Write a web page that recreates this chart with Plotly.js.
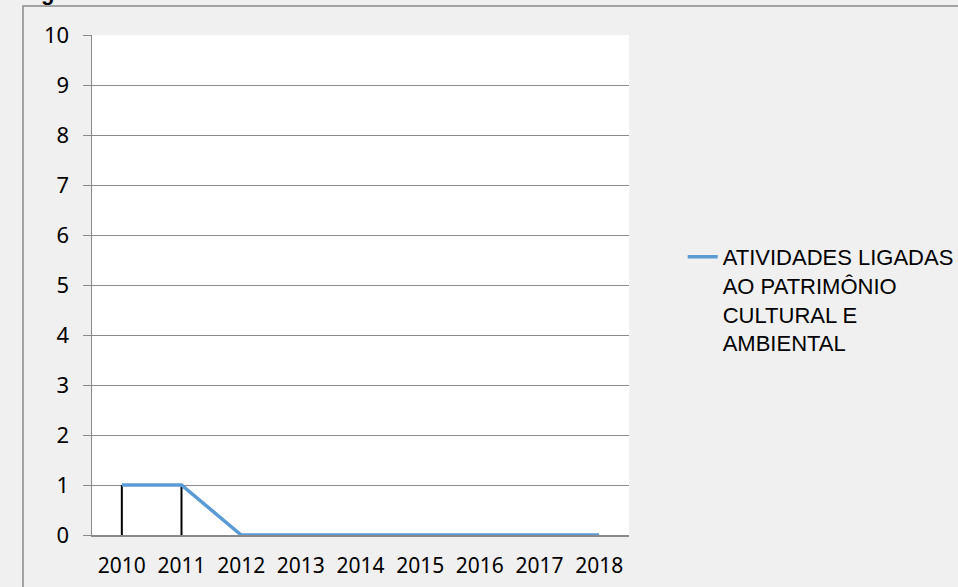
<!DOCTYPE html>
<html>
<head>
<meta charset="utf-8">
<script src="https://cdn.plot.ly/plotly-3.0.1.min.js"></script>
<style>html,body{margin:0;padding:0;background:#f0f0f0;}#chart{width:958px;height:587px;}</style>
</head>
<body>
<div id="chart"></div>
<script>
var years = ["2010","2011","2012","2013","2014","2015","2016","2017","2018"];
var values = [1, 1, 0, 0, 0, 0, 0, 0, 0];
var seriesName = "ATIVIDADES LIGADAS<br>AO PATRIMÔNIO<br>CULTURAL E<br>AMBIENTAL";
var yTicks = [0,1,2,3,4,5,6,7,8,9,10];

var dropX = [], dropY = [];
years.forEach(function (c, i) { dropX.push(c, c, null); dropY.push(0, values[i], null); });

var traces = [
  {x: dropX, y: dropY, type: "scatter", mode: "lines", line: {color: "#000000", width: 2}, showlegend: false, hoverinfo: "skip"},
  {x: years, y: values, type: "scatter", mode: "lines", name: seriesName, line: {color: "#5b9bd5", width: 3.5}}
];

var layout = {
  width: 958, height: 587,
  margin: {l: 92, r: 329, t: 35, b: 52, autoexpand: false},
  paper_bgcolor: "#f0f0f0",
  plot_bgcolor: "#ffffff",
  font: {family: "Noto Sans, Open Sans, sans-serif", color: "#000000", size: 20},
  xaxis: {type: "category", range: [-0.5, 8.5], showgrid: false, showline: true, linecolor: "#898989", linewidth: 1.5,
          ticks: "", ticklabelstandoff: 11, tickfont: {size: 21}, zeroline: false, fixedrange: true, automargin: false},
  yaxis: {range: [0, 10], tickvals: yTicks, showgrid: true, gridcolor: "#8c8c8c", gridwidth: 1, showline: true,
          linecolor: "#898989", linewidth: 1.5, ticks: "outside", ticklen: 8, tickcolor: "#898989", ticklabelstandoff: 9,
          tickfont: {size: 22}, zeroline: false, fixedrange: true, automargin: false},
  showlegend: true,
  legend: {x: 1.1, xanchor: "left", y: 0.47, yanchor: "middle", valign: "top", bgcolor: "rgba(0,0,0,0)",
           font: {family: "Liberation Sans, Arial, sans-serif", size: 22}},
  shapes: [
    {type: "path", xref: "paper", yref: "paper", path: "M -0.1285 -0.2 L -0.1285 1.058 L 1.7 1.058", line: {color: "#898989", width: 1.5}}
  ],
  annotations: [
    {text: "<b>g</b>", xref: "paper", yref: "paper", x: -0.082, y: 1.057, xanchor: "center", yanchor: "bottom",
     showarrow: false, font: {family: "Liberation Sans, sans-serif", size: 22, color: "#000"}}
  ]
};

Plotly.newPlot("chart", traces, layout, {displayModeBar: false, staticPlot: true});
</script>
</body>
</html>
